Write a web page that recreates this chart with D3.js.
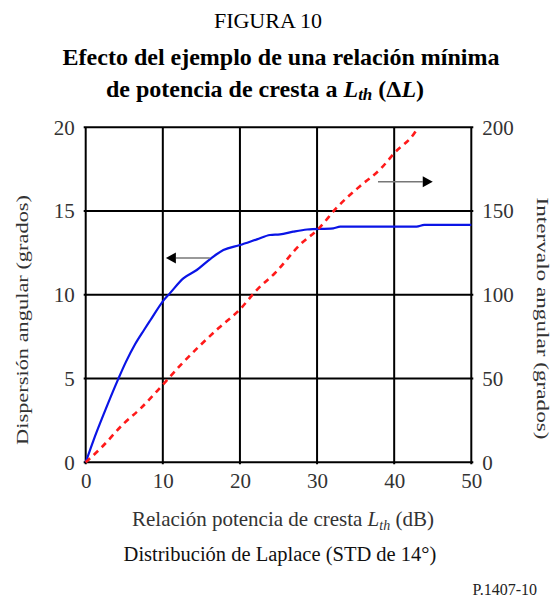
<!DOCTYPE html>
<html>
<head>
<meta charset="utf-8">
<script src="https://cdn.jsdelivr.net/npm/d3@7"></script>
<style>
  html, body { margin: 0; padding: 0; background: #fff; }
  svg { display: block; font-family: "Liberation Serif", "Times New Roman", serif; }
</style>
</head>
<body>
<svg id="chart" width="552" height="607"></svg>
<script>
// Peak power ratio L_th (dB) vs angular spread (left axis, degrees)
const spreadX = [0, 1.0, 2.4, 4.2, 5.2, 6.4, 7.56, 8.34, 10.15, 10.93, 12.66, 14.4, 16.1, 17.85, 20, 22.2, 23.9, 25.2, 26.9, 28.7, 32.1, 33.0, 42.9, 43.9, 50];
const spreadY = [0, 1.3, 2.95, 4.95, 5.98, 7.05, 7.9, 8.45, 9.7, 10.1, 10.98, 11.48, 12.12, 12.67, 12.97, 13.31, 13.57, 13.61, 13.77, 13.9, 13.97, 14.07, 14.07, 14.17, 14.17];

// Peak power ratio L_th (dB) vs angular interval (right axis, degrees)
const intervalX = [0, 1.95, 4.97, 7.13, 9.94, 12.3, 17.2, 20, 22.2, 24.55, 27.8, 30.2, 32.55, 35.6, 38.2, 40.1, 42.7, 43.1];
const intervalY = [0, 8.4, 23.3, 32.2, 46, 58, 80, 91.3, 103, 113, 130, 139.5, 152, 165, 175, 185, 197, 200];

const xTicks = [0, 10, 20, 30, 40, 50];
const leftTicks = [0, 5, 10, 15, 20];
const rightTicks = [0, 50, 100, 150, 200];

// Direction arrows: which series belongs to which axis
const leftArrow = { y: 12.2, from: 16.1, to: 10.4 };
const rightArrow = { y: 167.5, from: 37.9, to: 45.0 };

const svg = d3.select("#chart");
const plot = { left: 85.7, right: 471.3, top: 127.3, bottom: 462.3 };

const x = d3.scaleLinear().domain([0, 50]).range([plot.left, plot.right]);
const yL = d3.scaleLinear().domain([0, 20]).range([plot.bottom, plot.top]);
const yR = d3.scaleLinear().domain([0, 200]).range([plot.bottom, plot.top]);

// Titles
svg.append("text").attr("x", 268).attr("y", 28).attr("text-anchor", "middle")
  .attr("font-size", 22).attr("fill", "#000").text("FIGURA 10");
svg.append("text").attr("x", 281).attr("y", 65).attr("text-anchor", "middle")
  .attr("font-size", 24).attr("font-weight", "bold").attr("fill", "#000")
  .text("Efecto del ejemplo de una relación mínima");
const t2 = svg.append("text").attr("x", 265).attr("y", 97).attr("text-anchor", "middle")
  .attr("font-size", 24).attr("font-weight", "bold").attr("fill", "#000");
t2.append("tspan").text("de potencia de cresta a ");
t2.append("tspan").attr("font-style", "italic").text("L");
t2.append("tspan").attr("font-style", "italic").attr("font-size", 17).attr("dy", 3).text("th");
t2.append("tspan").attr("dy", -3).text(" (Δ");
t2.append("tspan").attr("font-style", "italic").text("L");
t2.append("tspan").text(")");

// Grid lines
const grid = svg.append("g").attr("stroke", "#000").attr("stroke-width", 2);
grid.selectAll("line.v").data(xTicks).join("line").attr("class", "v")
  .attr("x1", d => x(d)).attr("x2", d => x(d))
  .attr("y1", plot.top).attr("y2", plot.bottom + 2);
grid.selectAll("line.h").data(leftTicks).join("line").attr("class", "h")
  .attr("x1", plot.left - 2).attr("x2", plot.right + 2)
  .attr("y1", d => yL(d)).attr("y2", d => yL(d));

// Tick labels via D3 axes (no domain line, labels only)
const tickColor = "#333";
const ax = svg.append("g").attr("transform", `translate(0,${plot.bottom})`)
  .call(d3.axisBottom(x).tickValues(xTicks).tickSize(0).tickPadding(9));
const ayl = svg.append("g").attr("transform", `translate(${plot.left},0)`)
  .call(d3.axisLeft(yL).tickValues(leftTicks).tickSize(0).tickPadding(11));
const ayr = svg.append("g").attr("transform", `translate(${plot.right},0)`)
  .call(d3.axisRight(yR).tickValues(rightTicks).tickSize(0).tickPadding(11));
[ax, ayl, ayr].forEach(g => {
  g.select(".domain").remove();
  g.selectAll("text").attr("font-family", "Liberation Serif, serif")
    .attr("font-size", 21).attr("fill", tickColor);
});
ax.selectAll("text").attr("dy", "0.8em");

// Series
svg.append("path")
  .datum(d3.zip(spreadX, spreadY))
  .attr("fill", "none").attr("stroke", "#0a14e6").attr("stroke-width", 2.2)
  .attr("stroke-linejoin", "round")
  .attr("d", d3.line().x(d => x(d[0])).y(d => yL(d[1])).curve(d3.curveMonotoneX));

svg.append("path")
  .datum(d3.zip(intervalX, intervalY))
  .attr("fill", "none").attr("stroke", "#ff1a1a").attr("stroke-width", 2.6)
  .attr("stroke-dasharray", "6,5")
  .attr("d", d3.line().x(d => x(d[0])).y(d => yR(d[1])).curve(d3.curveMonotoneX));

// Arrows
function arrow(x1, x2, yPix) {
  const dir = Math.sign(x2 - x1);
  const headLen = 10, headHalf = 5.5;
  svg.append("line").attr("x1", x1).attr("x2", x2 - dir * headLen)
    .attr("y1", yPix).attr("y2", yPix).attr("stroke", "#777").attr("stroke-width", 1.6);
  svg.append("path")
    .attr("d", `M${x2},${yPix} L${x2 - dir * headLen},${yPix - headHalf} L${x2 - dir * headLen},${yPix + headHalf} Z`)
    .attr("fill", "#000");
}
arrow(x(leftArrow.from), x(leftArrow.to), yL(leftArrow.y));
arrow(x(rightArrow.from), x(rightArrow.to), yR(rightArrow.y));

// Axis titles (slightly elongated along the text direction)
svg.append("text")
  .attr("transform", "translate(28,320) rotate(-90)")
  .attr("text-anchor", "middle").attr("font-size", 17.5).attr("fill", tickColor)
  .attr("textLength", 250).attr("lengthAdjust", "spacingAndGlyphs")
  .text("Dispersión angular (grados)");
svg.append("text")
  .attr("transform", "translate(537,318.5) rotate(90)")
  .attr("text-anchor", "middle").attr("font-size", 17.5).attr("fill", tickColor)
  .attr("textLength", 242).attr("lengthAdjust", "spacingAndGlyphs")
  .text("Intervalo angular (grados)");

const xt = svg.append("text").attr("x", 283).attr("y", 526).attr("text-anchor", "middle")
  .attr("font-size", 21).attr("fill", tickColor);
xt.append("tspan").text("Relación potencia de cresta ");
xt.append("tspan").attr("font-style", "italic").text("L");
xt.append("tspan").attr("font-style", "italic").attr("font-size", 14).attr("dy", 4).text("th");
xt.append("tspan").attr("dy", -4).text(" (dB)");

svg.append("text").attr("x", 280).attr("y", 561).attr("text-anchor", "middle")
  .attr("font-size", 20.5).attr("fill", "#111")
  .text("Distribución de Laplace (STD de 14°)");
svg.append("text").attr("x", 537).attr("y", 595).attr("text-anchor", "end")
  .attr("font-size", 16).attr("fill", "#222")
  .text("P.1407-10");
</script>
</body>
</html>
